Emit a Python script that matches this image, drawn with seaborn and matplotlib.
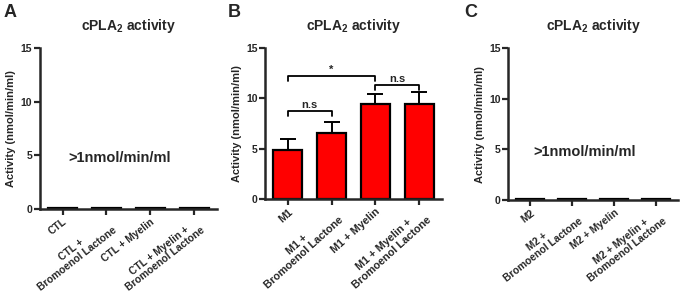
import numpy as np
import pandas as pd
import matplotlib
matplotlib.use('Agg')
import matplotlib.pyplot as plt
import seaborn as sns

sns.set_style('ticks')
plt.rcParams['font.family'] = ['Liberation Sans', 'DejaVu Sans']
plt.rcParams['font.weight'] = 'bold'
plt.rcParams['axes.labelweight'] = 'bold'
plt.rcParams['mathtext.fontset'] = 'custom'
plt.rcParams['mathtext.bf'] = 'Liberation Sans:bold'
plt.rcParams['mathtext.rm'] = 'Liberation Sans:bold'

# data
labels_a = ['CTL', 'CTL +\nBromoenol Lactone', 'CTL + Myelin', 'CTL + Myelin +\nBromoenol Lactone']
labels_b = ['M1', 'M1 +\nBromoenol Lactone', 'M1 + Myelin', 'M1 + Myelin +\nBromoenol Lactone']
labels_c = ['M2', 'M2 +\nBromoenol Lactone', 'M2 + Myelin', 'M2 + Myelin +\nBromoenol Lactone']
means_a = [0.1, 0.1, 0.1, 0.1]
means_b = [4.9, 6.6, 9.4, 9.4]
sem_b = [1.05, 1.0, 1.05, 1.25]
means_c = [0.1, 0.1, 0.1, 0.1]
# (left bar, right bar, height, label)
brackets_b = [(0, 1, 8.7, 'n.s'), (0, 2, 12.2, '*'), (2, 3, 11.3, 'n.s')]

fig = plt.figure(figsize=(6.85, 2.93), dpi=100)
ax_a = fig.add_axes([0.058, 0.287, 0.259, 0.549])
ax_b = fig.add_axes([0.387, 0.321, 0.258, 0.515])
ax_c = fig.add_axes([0.742, 0.317, 0.248, 0.519])


def panel(ax, labels, means, sem=None, tick_size=7.5, rot=40, note=None):
    df = pd.DataFrame({'group': labels, 'activity': means})
    sns.barplot(data=df, x='group', y='activity', ax=ax, color='#ff0000',
                edgecolor='black', linewidth=1.6, width=0.66, saturation=1)
    if sem is not None:
        ax.errorbar(np.arange(len(means)), means,
                    yerr=[np.zeros(len(sem)), sem], fmt='none',
                    ecolor='black', elinewidth=1.4, capsize=5.5, capthick=1.4)
    ax.set_ylim(0, 15)
    ax.set_xlim(-0.52, len(labels) - 0.48)
    ax.set_yticks([0, 5, 10, 15])
    ax.set_xlabel('')
    ax.set_ylabel('Activity (nmol/min/ml)', fontsize=8, fontweight='bold', labelpad=3)
    ax.set_title('cPLA$\\mathbf{_2}$ activity', fontsize=10, fontweight='bold', pad=13)
    ax.set_xticks(range(len(labels)))
    ax.set_xticklabels(labels, rotation=rot, ha='right', rotation_mode='anchor',
                       fontsize=tick_size, fontweight='bold', multialignment='center',
                       linespacing=1.05)
    for lab in ax.get_yticklabels():
        lab.set_fontweight('bold')
        lab.set_fontsize(7.5)
    ax.tick_params(axis='both', width=1.6, length=4, pad=1.5)
    for s in ['left', 'bottom']:
        ax.spines[s].set_linewidth(1.8)
    sns.despine(ax=ax)
    if note:
        ax.text(1.3, 4.75, note, ha='center', va='center', fontsize=10.5, fontweight='bold')


panel(ax_a, labels_a, means_a, tick_size=7.4, rot=38, note='>1nmol/min/ml')
panel(ax_b, labels_b, means_b, sem=sem_b, tick_size=7.8, rot=42)
panel(ax_c, labels_c, means_c, tick_size=7.4, rot=38, note='>1nmol/min/ml')

for x1, x2, h, txt in brackets_b:
    ax_b.plot([x1, x1, x2, x2], [h - 0.45, h, h, h - 0.45], color='black', lw=1.3)
    ax_b.text((x1 + x2) / 2, h + 0.15, txt, ha='center', va='bottom', fontsize=8)

fig.text(0.005, 0.985, 'A', fontsize=13, fontweight='bold', va='top')
fig.text(0.333, 0.985, 'B', fontsize=13, fontweight='bold', va='top')
fig.text(0.678, 0.985, 'C', fontsize=13, fontweight='bold', va='top')

fig.savefig('out.png', dpi=100)
